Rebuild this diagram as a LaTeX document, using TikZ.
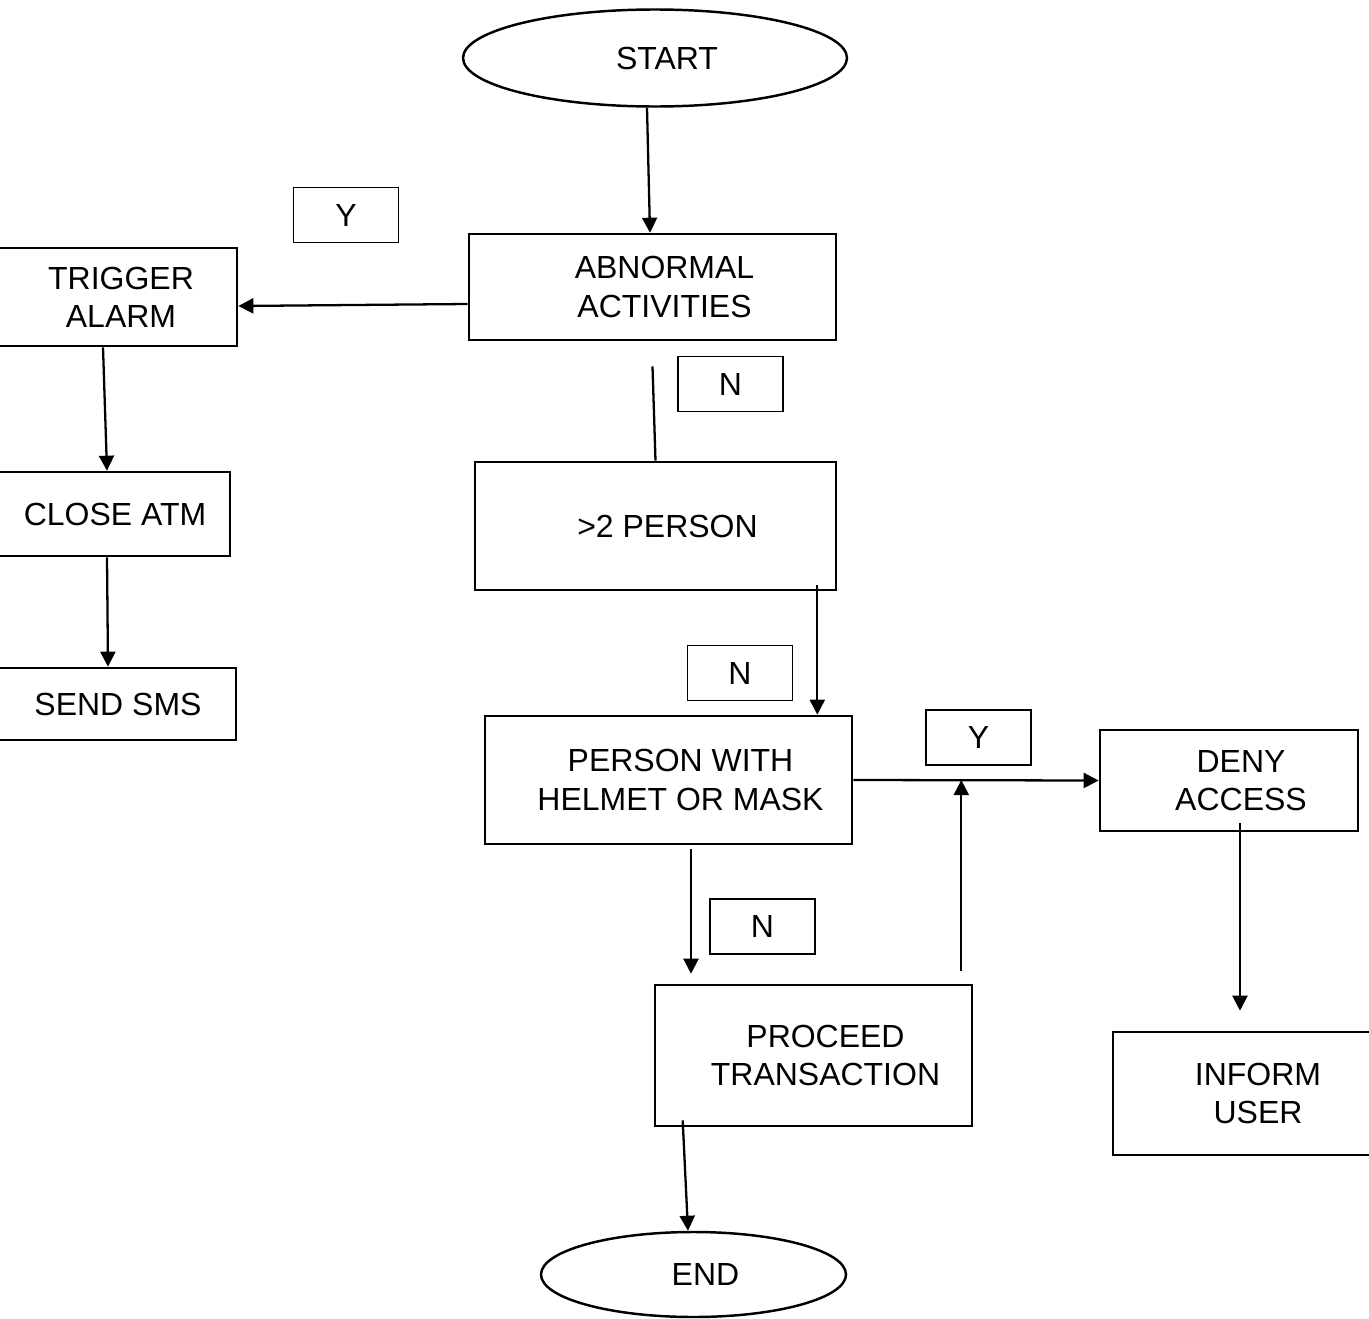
\documentclass[tikz,border=0pt]{standalone}
\usepackage{fontspec}
\setmainfont{Liberation Sans}
\usetikzlibrary{calc,shapes.geometric,arrows.meta}
\newcommand\yn[3]{\node[answer](#1)at(#2){#3};}

\begin{document}
\begin{tikzpicture}[font=\fontsize{18.2}{21.8}\selectfont,>={Triangle[length=0.3cm,width=0.3cm]}]
% Node styles: terminal, process box and answer tag
\tikzstyle{terminal}=[ellipse,draw,line width=1.4pt,inner sep=0];
\tikzstyle{process}=[rectangle,draw,line width=1.5pt,inner sep=0];
\tikzstyle{answer}=[rectangle,draw,line width=1pt,minimum width=2.1cm,minimum height=1.1cm,inner sep=0];
\tikzstyle{flow}=[draw,line width=1.3pt];
% text sits a little right of the middle
\tikzset{txt/.style={label={[align=center,xshift=0.24cm]center:#1}}}
\useasboundingbox(0,0)rectangle(27.38,-26.38);
% The boxes
\node(start)[terminal,minimum width=7.68cm,minimum height=1.94cm,txt=START]at(13.10,-1.16){};
\node(abn)[process,minimum width=7.34cm,minimum height=2.12cm,txt={ABNORMAL\\ACTIVITIES}]at(13.05,-5.74){};
\node(trig)[process,minimum width=5.12cm,minimum height=1.96cm,txt={TRIGGER\\ALARM}]at(2.18,-5.94){};
\node(close)[process,minimum width=5.08cm,minimum height=1.68cm,txt={CLOSE ATM}]at(2.06,-10.28){};
\node(sms)[process,minimum width=5.20cm,minimum height=1.44cm,txt={SEND SMS}]at(2.12,-14.08){};
\node(pers)[process,minimum width=7.22cm,minimum height=2.56cm,txt={>2 PERSON}]at(13.11,-10.52){};
\node(helmet)[process,minimum width=7.34cm,minimum height=2.56cm,txt={PERSON WITH\\HELMET OR MASK}]at(13.37,-15.60){};
\node(deny)[process,minimum width=5.16cm,minimum height=2.02cm,txt={DENY\\ACCESS}]at(24.58,-15.61){};
\node(inform)[process,minimum width=5.32cm,minimum height=2.46cm,txt={INFORM\\USER}]at(24.92,-21.87){};
\node(proc)[process,minimum width=6.34cm,minimum height=2.82cm,txt={PROCEED\\TRANSACTION}]at(16.27,-21.11){};
\node(stop)[terminal,minimum width=6.10cm,minimum height=1.70cm,txt=END]at(13.87,-25.49){};
% answers
\yn{y1}{6.92,-4.30}{Y}
\yn{n1}{14.61,-7.68}{N}
\yn{n2}{14.80,-13.46}{N}
\yn{y2}{19.57,-14.75}{Y}
\yn{n3}{15.25,-18.53}{N}
% connectors
\draw[flow,->]([xshift=-0.16cm]start.south)--([xshift=-0.05cm]abn.north);
\draw[flow,->]([yshift=-0.34cm]abn.west)--([yshift=-0.18cm]trig.east);
\draw[flow,->]([xshift=-0.12cm]trig.south)--([xshift=0.08cm]close.north);
\draw[flow,->]([xshift=0.08cm]close.south)--([xshift=0.04cm]sms.north);
\draw[flow]([yshift=-0.5cm]abn.south)--(pers.north);
\draw[flow,->]([xshift=-0.4cm,yshift=0.12cm]pers.south east)coordinate(a)--(a|-helmet.north);
\draw[flow,->](helmet.east)--(deny.west);
\draw[flow,->]([xshift=-0.24cm,yshift=0.26cm]proc.north east)coordinate(b)--(b|-helmet.east);
\draw[flow,->]([xshift=0.22cm,yshift=0.18cm]deny.south)coordinate(c)--([yshift=0.4cm]c|-inform.north);
\draw[flow,->]([xshift=0.45cm,yshift=-0.08cm]helmet.south)coordinate(d)--([yshift=0.2cm]d|-proc.north);
\draw[flow,->]([xshift=0.58cm,yshift=0.14cm]proc.south west)--([xshift=-0.11cm]stop.north);
\end{tikzpicture}
\end{document}
